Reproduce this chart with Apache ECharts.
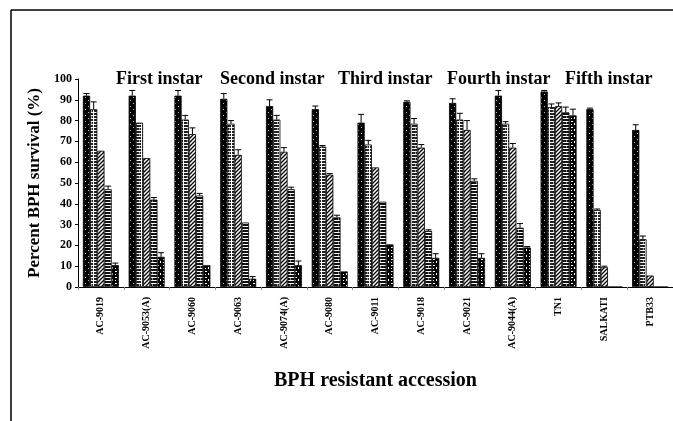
<!DOCTYPE html>
<html>
<head>
<meta charset="utf-8">
<script src="https://cdn.jsdelivr.net/npm/echarts@6/dist/echarts.min.js"></script>
<style>
    html, body { margin: 0; padding: 0; background: #fff; }
    #chart { width: 673px; height: 421px; }
</style>
</head>
<body>
<div id="chart"></div>
<script>
    // data
    let categories = ['AC-9019', 'AC-9053(A)', 'AC-9060', 'AC-9063', 'AC-9074(A)', 'AC-9080', 'AC-9011',
        'AC-9018', 'AC-9021', 'AC-9044(A)', 'TN1', 'SALKATI', 'PTB33']
    let seriesNames = ['First instar', 'Second instar', 'Third instar', 'Fourth instar', 'Fifth instar']
    let firstInstar = [92, 92, 92, 90.5, 87, 85.5, 79, 89, 88.5, 92, 94, 85.5, 75.5]
    let secondInstar = [85.5, 79, 80.5, 78.5, 80.5, 67.5, 68.5, 78.5, 80.5, 78.5, 86.5, 37, 23]
    let thirdInstar = [65.5, 62, 73.5, 63.5, 65, 54, 57.5, 67, 75.5, 67, 87, 9.5, 5.5]
    let fourthInstar = [47, 42, 44, 31, 47, 33.5, 41, 27, 51, 28.5, 84, 0, 0]
    let fifthInstar = [10.5, 14.5, 10.5, 4, 10.5, 7.5, 20.5, 14, 14, 19, 82.5, 0, 0]
    let firstErr = [1, 2.5, 2.5, 2.5, 3, 1.5, 4, 0.5, 2, 2.5, 0.5, 0.5, 2.5]
    let secondErr = [3.5, 0, 2, 1.5, 2, 0.5, 2, 2.5, 3, 1, 1.5, 0.5, 1.5]
    let thirdErr = [0, 0, 3, 2.5, 2, 0.5, 0, 1.5, 4.5, 2, 1.5, 0.5, 0]
    let fourthErr = [1.5, 1, 1, 0, 1, 1, 0, 0.5, 1, 2, 2.5, 0, 0]
    let fifthErr = [1, 2, 0, 1, 2, 0, 0, 2, 2, 0.5, 3, 0, 0]
    let yTicks = [0, 10, 20, 30, 40, 50, 60, 70, 80, 90, 100]

    let values = [firstInstar, secondInstar, thirdInstar, fourthInstar, fifthInstar]
    let errors = [firstErr, secondErr, thirdErr, fourthErr, fifthErr]

    // hatch fills like the print figure
    function tile(size, draw) {
        let c = document.createElement('canvas')
        c.width = size
        c.height = size
        draw(c.getContext('2d'))
        return {image: c, repeat: 'repeat'}
    }
    let fills = [
        tile(6, function (g) {
            g.fillStyle = '#000'; g.fillRect(0, 0, 6, 6)
            g.fillStyle = '#bbb'; g.fillRect(1, 1, 1, 1); g.fillRect(4, 4, 1, 1)
        }),
        tile(6, function (g) {
            g.fillStyle = '#222'; g.fillRect(0, 0, 6, 6)
            g.fillStyle = '#fff'; g.fillRect(3, 0, 1, 6); g.fillRect(0, 1, 6, 1); g.fillRect(0, 4, 6, 1)
            g.fillStyle = '#999'; g.fillRect(1, 2, 1, 2)
        }),
        tile(4, function (g) {
            g.fillStyle = '#fff'; g.fillRect(0, 0, 4, 4)
            g.strokeStyle = '#000'; g.lineWidth = 1.3
            g.beginPath(); g.moveTo(-1, 5); g.lineTo(5, -1); g.moveTo(-1, 1); g.lineTo(1, -1); g.moveTo(3, 5); g.lineTo(5, 3); g.stroke()
        }),
        tile(6, function (g) {
            g.fillStyle = '#111'; g.fillRect(0, 0, 6, 6)
            g.fillStyle = '#fff'; g.fillRect(0, 1, 6, 1); g.fillRect(0, 4, 6, 1)
            g.fillStyle = '#888'; g.fillRect(2, 2, 1, 2)
        }),
        tile(6, function (g) {
            g.fillStyle = '#000'; g.fillRect(0, 0, 6, 6)
            g.fillStyle = '#fff'; g.fillRect(1, 1, 2, 1); g.fillRect(4, 3, 1, 2); g.fillRect(1, 4, 1, 1)
        })
    ]

    let barW = 7.2
    let font = '"Liberation Serif", "Times New Roman", serif'

    let seriesData = []
    let errData = []
    for (let i = 0; i < seriesNames.length; i++) {
        seriesData.push({
            name: seriesNames[i],
            type: 'bar',
            barWidth: barW,
            barGap: '0%',
            itemStyle: {
                color: fills[i],
                borderColor: '#000',
                borderWidth: 0.8
            },
            data: values[i]
        })
        for (let j = 0; j < categories.length; j++) {
            errData.push([j, i, values[i][j], errors[i][j]])
        }
    }
    seriesData.push({
        type: 'custom',
        silent: true,
        z: 5,
        renderItem: function (params, api) {
            let e = api.value(3)
            if (!e) return
            let si = api.value(1)
            let base = api.coord([api.value(0), api.value(2)])
            let top = api.coord([api.value(0), api.value(2) + e])
            let x = base[0] + (si - 2) * barW
            let st = {stroke: '#000', lineWidth: 1}
            return {
                type: 'group',
                children: [
                    {type: 'line', shape: {x1: x, y1: base[1], x2: x, y2: top[1]}, style: st},
                    {type: 'line', shape: {x1: x - 3, y1: top[1], x2: x + 3, y2: top[1]}, style: st}
                ]
            }
        },
        data: errData
    })

    let legendLeft = [106, 210, 328, 437, 555]
    let legends = seriesNames.map(function (n, i) {
        return {
            data: [n],
            left: legendLeft[i],
            top: 65,
            icon: 'none',
            itemWidth: 0,
            selectedMode: false,
            textStyle: {fontFamily: font, fontWeight: 'bold', fontSize: 18, color: '#000'}
        }
    })

    let myChart = echarts.init(document.getElementById('chart'))
    let option = {
        animation: false,
        backgroundColor: '#fff',
        legend: legends,
        grid: {
            left: 78,
            right: 0,
            top: 79,
            bottom: 134
        },
        graphic: [
            {type: 'line', shape: {x1: 11, y1: 10, x2: 673, y2: 10}, style: {stroke: '#000', lineWidth: 1.5}},
            {type: 'line', shape: {x1: 11, y1: 10, x2: 11, y2: 421}, style: {stroke: '#000', lineWidth: 1.5}}
        ],
        xAxis: {
            type: 'category',
            data: categories,
            name: 'BPH resistant accession',
            nameLocation: 'middle',
            nameGap: 84,
            nameTextStyle: {fontFamily: font, fontWeight: 'bold', fontSize: 20, color: '#000'},
            axisLine: {lineStyle: {color: '#000', width: 1}},
            axisTick: {show: true, length: 3, interval: 0, lineStyle: {color: '#888'}},
            axisLabel: {
                interval: 0,
                rotate: 90,
                margin: 10,
                fontFamily: font,
                fontWeight: 'bold',
                fontSize: 10,
                color: '#000'
            }
        },
        yAxis: {
            type: 'value',
            min: yTicks[0],
            max: yTicks[yTicks.length - 1],
            interval: 10,
            name: 'Percent BPH survival (%)',
            nameLocation: 'middle',
            nameGap: 31,
            nameTextStyle: {fontFamily: font, fontWeight: 'bold', fontSize: 17, color: '#000'},
            splitLine: {show: false},
            axisLine: {show: true, lineStyle: {color: '#000', width: 1}},
            axisTick: {show: true, length: 3, lineStyle: {color: '#000'}},
            axisLabel: {
                margin: 6,
                fontFamily: font,
                fontWeight: 'bold',
                fontSize: 12,
                color: '#000'
            }
        },
        series: seriesData
    }
    myChart.setOption(option)
</script>
</body>
</html>
